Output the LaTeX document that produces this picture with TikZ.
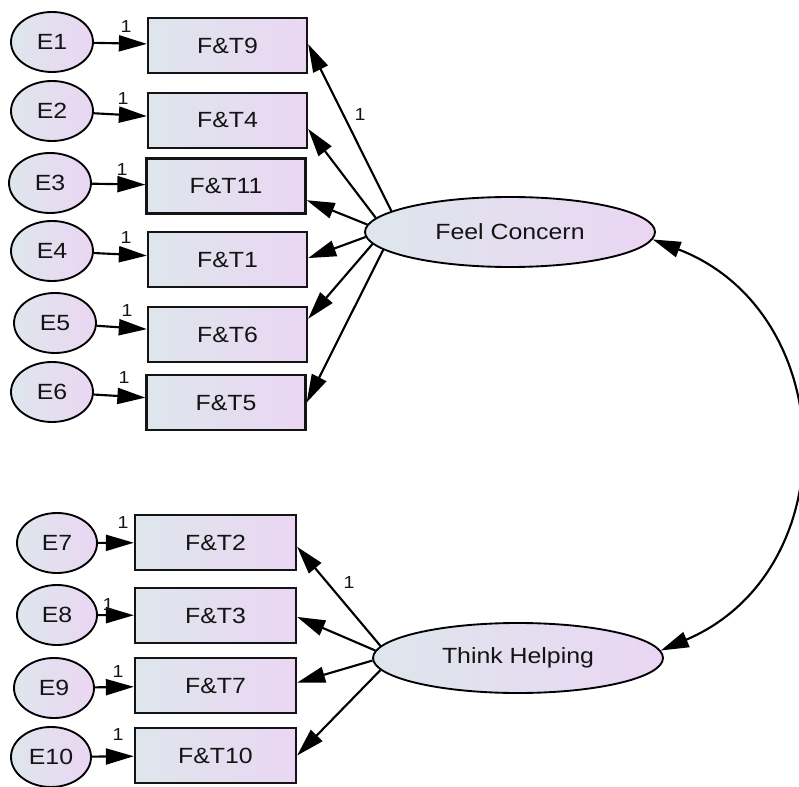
\documentclass[tikz,border=0pt]{standalone}
\usepackage{fontspec}
\newfontfamily\amos[FakeStretch=1.13]{Liberation Sans}
\usetikzlibrary{arrows.meta,shapes.geometric}
\definecolor{fillL}{RGB}{222,230,236}
\definecolor{fillR}{RGB}{234,214,243}
\definecolor{ink}{RGB}{20,20,20}
\tikzset{
  obs/.style={rectangle, draw=ink, line width=1.7pt, left color=fillL, right color=fillR,
    minimum width=119.25pt, minimum height=41.25pt, inner sep=0pt,
    font=\amos\fontsize{16.5}{18}\selectfont, text=ink},
  obsb/.style={obs, minimum width=120.75pt},
  err/.style={ellipse, draw=black, line width=1.4pt, left color=fillL, right color=fillR,
    minimum width=61.5pt, minimum height=45pt, inner sep=0pt,
    font=\amos\fontsize{16.5}{18}\selectfont, text=ink},
  errb/.style={err, minimum width=60pt},
  lat/.style={ellipse, draw=black, line width=1.4pt, left color=fillL, right color=fillR,
    minimum width=217.5pt, minimum height=52.5pt, inner sep=0pt,
    font=\amos\fontsize{16.5}{18}\selectfont, text=ink},
  arr/.style={line width=1.6pt, draw=black, -{Triangle[length=21pt,width=12pt]}},
  cov/.style={line width=1.6pt, draw=black, {Triangle[length=21pt,width=12pt]}-{Triangle[length=21pt,width=12pt]}},
  one/.style={font=\amos\fontsize{13}{14}\selectfont, inner sep=0pt, text=ink},
}
\begin{document}
\begin{tikzpicture}[x=0.75pt,y=-0.75pt]
\useasboundingbox (0,0) rectangle (799,787);

% latent factors
\node[lat] (FC) at (510,232) {Feel Concern};
\node[lat] (TH) at (518,658) {Think Helping};

% observed indicators of Feel Concern
\node[obs] (FT9)  at (227.5,45.5)  {F\&T9};
\node[obs] (FT4)  at (227.5,120.5) {F\&T4};
\node[obs] (FT11) at (226,186)     {F\&T11};
\node[obs] (FT1)  at (227.5,259.5) {F\&T1};
\node[obs] (FT6)  at (227.5,334.5) {F\&T6};
\node[obs] (FT5)  at (226,402.5)   {F\&T5};

% observed indicators of Think Helping
\node[obsb] (FT2)  at (215.5,542.5) {F\&T2};
\node[obsb] (FT3)  at (215.5,615.5) {F\&T3};
\node[obsb] (FT7)  at (215.5,685.5) {F\&T7};
\node[obsb] (FT10) at (215.5,755.5) {F\&T10};

% error terms
\node[err] (E1) at (52,42)  {E1};
\node[err] (E2) at (52,111) {E2};
\node[err] (E3) at (50,183) {E3};
\node[err] (E4) at (52,251) {E4};
\node[err] (E5) at (55,323) {E5};
\node[err] (E6) at (52,392) {E6};
\node[errb] (E7)  at (57,543) {E7};
\node[errb] (E8)  at (57,615) {E8};
\node[errb] (E9)  at (54,688) {E9};
\node[errb] (E10) at (51,757) {E10};

% error paths
\draw[arr] (E1) -- (FT9);
\draw[arr] (E2) -- (FT4);
\draw[arr] (E3) -- (FT11);
\draw[arr] (E4) -- (FT1);
\draw[arr] (E5) -- (FT6);
\draw[arr] (E6) -- (FT5);
\draw[arr] (E7) -- (FT2);
\draw[arr] (E8) -- (FT3);
\draw[arr] (E9) -- (FT7);
\draw[arr] (E10) -- (FT10);

% loadings of Feel Concern
\draw[arr] (FC.170.5) -- (FT9.1.8);
\draw[arr] (FC.174.5) -- (FT4.-6.8);
\draw[arr] (FC.177.2) -- (FT11.-10.3);
\draw[arr] (FC.182)   -- (FT1.1.8);
\draw[arr] (FC.185.4) -- (FT6.11.6);
\draw[arr] (FC.188.6) -- (FT5.0);

% loadings of Think Helping
\draw[arr] (TH.175.4) -- (FT2.-3.6);
\draw[arr] (TH.177.6) -- (FT3.-1.8);
\draw[arr] (TH.181.6) -- (FT7.2.5);
\draw[arr] (TH.185.7) -- (FT10.0);

% covariance between the factors
\draw[cov] (FC.-3) .. controls +(188.5,72.7) and +(186,-79) .. (TH.3);

% fixed parameters
\node[one] (w1)  at (126,27)  {1};
\node[one] (w2)  at (123,99)  {1};
\node[one] (w3)  at (122,170) {1};
\node[one] (w4)  at (126,238) {1};
\node[one] (w5)  at (127,311) {1};
\node[one] (w6)  at (124,378) {1};
\node[one] (w7)  at (123,523) {1};
\node[one] (w8)  at (108,605) {1};
\node[one] (w9)  at (118,672) {1};
\node[one] (w10) at (118,735) {1};
\node[one] (lfc) at (360,115) {1};
\node[one] (lth) at (349,583) {1};
\end{tikzpicture}
\end{document}
